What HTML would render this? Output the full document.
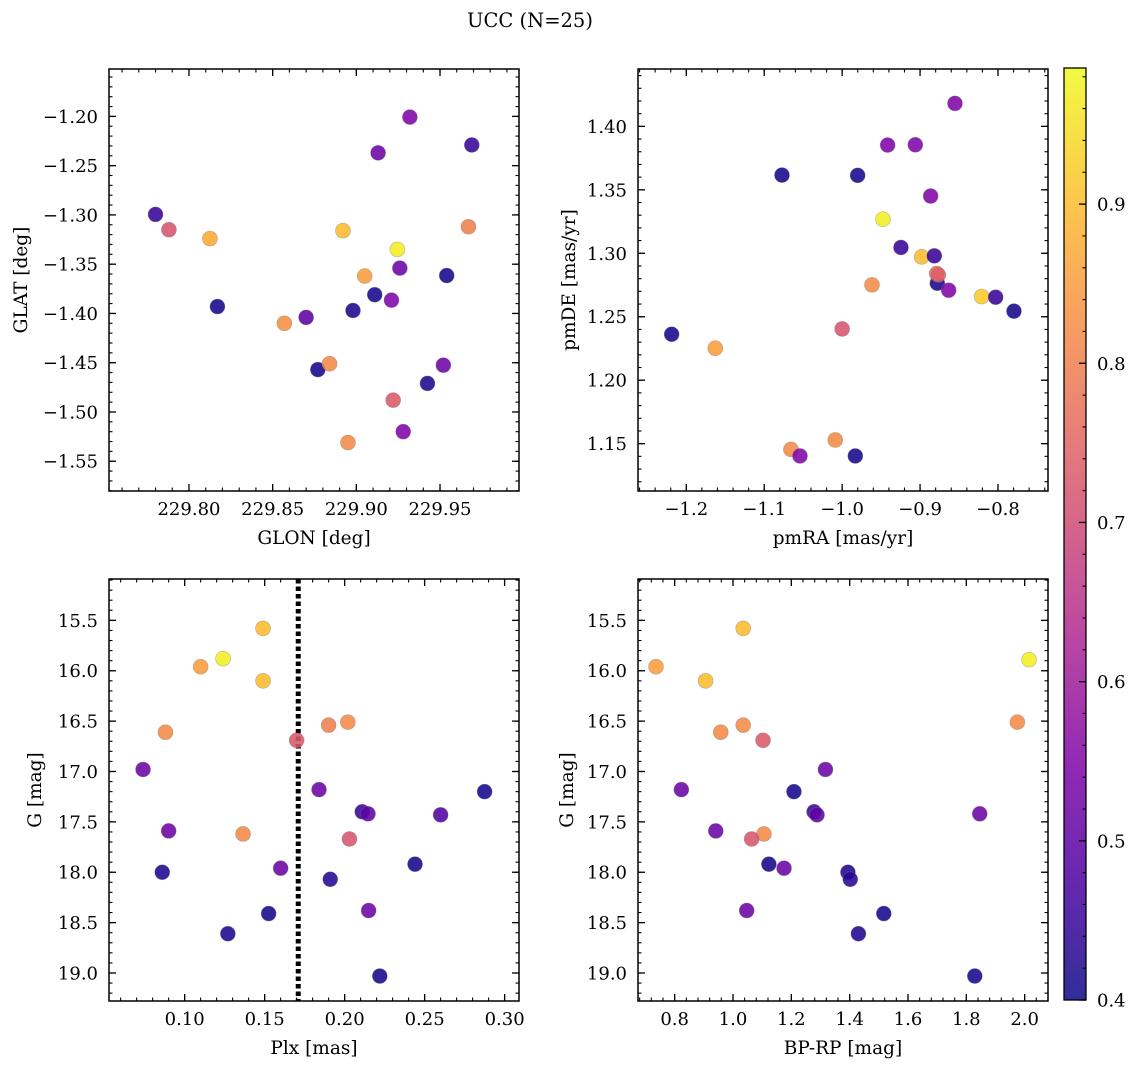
<!DOCTYPE html>
<html><head><meta charset="utf-8">
<style>
html,body{margin:0;padding:0;background:#fff;}
svg{display:block;font-family:"DejaVu Serif","Liberation Serif",serif;}
</style></head>
<body>
<svg id="fig" width="1136" height="1068" viewBox="0 0 1136 1068" xmlns="http://www.w3.org/2000/svg">
<rect width="1136" height="1068" fill="#fff"/>
<text x="530" y="27" text-anchor="middle" font-size="19.5" fill="#000">UCC (N=25)</text>
<defs>
<linearGradient id="cbgrad" x1="0" y1="1" x2="0" y2="0"></linearGradient>
</defs>
</svg>
<script>
// ---------- data (per panel) ----------
const glon = [229.780,229.788,229.8125,229.817,229.857,229.870,229.877,229.884,229.892,229.895,229.898,229.905,229.911,229.913,229.921,229.922,229.9245,229.926,229.928,229.932,229.9425,229.952,229.954,229.967,229.969];
const glat = [-1.2995,-1.315,-1.324,-1.393,-1.410,-1.404,-1.457,-1.451,-1.316,-1.531,-1.397,-1.362,-1.381,-1.237,-1.3865,-1.488,-1.335,-1.354,-1.520,-1.2007,-1.471,-1.4525,-1.3615,-1.312,-1.229];
const probPos = [0.45,0.72,0.87,0.41,0.83,0.5,0.41,0.82,0.9,0.82,0.42,0.85,0.41,0.52,0.55,0.73,0.97,0.52,0.55,0.55,0.42,0.52,0.41,0.8,0.45];

const pmra = [-1.2188,-1.1628,-1.0772,-1.0657,-1.0541,-1.0088,-1.0000,-0.9831,-0.9801,-0.9617,-0.9476,-0.9416,-0.9245,-0.9061,-0.8980,-0.8864,-0.8817,-0.8779,-0.8787,-0.8766,-0.8633,-0.8552,-0.8210,-0.8030,-0.7795];
const pmde = [1.2362,1.2252,1.3616,1.1455,1.1403,1.1529,1.2404,1.1403,1.3614,1.2751,1.3269,1.3853,1.3046,1.3855,1.2972,1.3451,1.2980,1.2764,1.2841,1.2830,1.2709,1.4181,1.2659,1.2654,1.2544];
const probPm = [0.41,0.85,0.41,0.82,0.55,0.82,0.72,0.41,0.41,0.82,0.97,0.55,0.45,0.55,0.9,0.55,0.45,0.41,0.78,0.74,0.55,0.55,0.92,0.45,0.41];

const plx = [0.149,0.124,0.110,0.149,0.088,0.202,0.190,0.170,0.074,0.184,0.2875,0.211,0.2146,0.260,0.090,0.1365,0.203,0.244,0.160,0.086,0.191,0.215,0.1525,0.127,0.222];
const gmagA = [15.58,15.88,15.96,16.10,16.61,16.51,16.54,16.69,16.98,17.18,17.20,17.40,17.42,17.43,17.59,17.62,17.67,17.92,17.96,18.00,18.07,18.38,18.41,18.61,19.03];
const probPlx = [0.9,0.97,0.85,0.9,0.82,0.82,0.8,0.73,0.52,0.52,0.41,0.45,0.5,0.48,0.52,0.82,0.72,0.41,0.52,0.42,0.43,0.52,0.41,0.42,0.41];
const plxCut = [0.171];

const bprp = [0.736,1.035,2.015,0.906,1.975,1.035,0.958,1.103,1.317,0.823,1.209,1.278,1.288,1.846,0.941,1.106,1.064,1.123,1.175,1.394,1.402,1.047,1.517,1.430,1.829];
const gmagB = [15.96,15.58,15.89,16.10,16.51,16.54,16.61,16.69,16.98,17.18,17.20,17.40,17.43,17.42,17.59,17.62,17.67,17.92,17.96,18.00,18.07,18.38,18.41,18.61,19.03];
const probCmd = [0.85,0.9,0.97,0.9,0.82,0.82,0.82,0.73,0.52,0.52,0.41,0.45,0.5,0.52,0.52,0.82,0.72,0.41,0.52,0.42,0.43,0.52,0.41,0.42,0.41];

const cbTicks = [0.4,0.5,0.6,0.7,0.8,0.9];
const VMIN = 0.4, VMAX = 0.9855;

// ---------- helpers ----------
const NS = "http://www.w3.org/2000/svg";
const svg = document.getElementById('fig');
function mk(tag, attrs, parent){
  const e = document.createElementNS(NS, tag);
  for (const k in attrs) e.setAttribute(k, attrs[k]);
  (parent||svg).appendChild(e);
  return e;
}
const plasmaStops = [[13,8,135],[76,2,161],[126,3,168],[169,35,149],[204,71,120],[230,108,92],[248,149,64],[253,195,40],[240,249,33]];
function plasma(t){
  t = Math.max(0, Math.min(1, t));
  const s = t*(plasmaStops.length-1), i = Math.min(Math.floor(s), plasmaStops.length-2), f = s-i;
  const a = plasmaStops[i], b = plasmaStops[i+1];
  return 'rgb(' + [0,1,2].map(k => Math.round(a[k]+(b[k]-a[k])*f)).join(',') + ')';
}
function cmap(v){ return plasma((v-VMIN)/(VMAX-VMIN)); }
function fmt(v, d){ const s = Math.abs(v).toFixed(d); return (v < -1e-9 ? '\u2212' : '') + s; }
const TFS = 18, LFS = 18.5;

function panel(cfg){
  const g = mk('g', {});
  
  
  const {L,R,T,B,xmin,xmax,ymin,ymax,invertY} = cfg;
  const sx = v => L + (v - xmin)/(xmax - xmin)*(R - L);
  const sy = invertY ? (v => T + (v - ymin)/(ymax - ymin)*(B - T)) : (v => B - (v - ymin)/(ymax - ymin)*(B - T));
  const lo = Math.min(ymin,ymax), hi = Math.max(ymin,ymax);
  for (let v = Math.ceil(xmin/cfg.xminor-1e-9)*cfg.xminor; v <= xmax+1e-9; v += cfg.xminor){
    const x = sx(v);
    mk('line',{x1:x,x2:x,y1:B,y2:B-3.5,stroke:'#000','stroke-width':1.1},g);
    mk('line',{x1:x,x2:x,y1:T,y2:T+3.5,stroke:'#000','stroke-width':1.1},g);
  }
  for (let v = Math.ceil(lo/cfg.yminor-1e-9)*cfg.yminor; v <= hi+1e-9; v += cfg.yminor){
    const y = sy(v);
    mk('line',{x1:L,x2:L+3.5,y1:y,y2:y,stroke:'#000','stroke-width':1.1},g);
    mk('line',{x1:R,x2:R-3.5,y1:y,y2:y,stroke:'#000','stroke-width':1.1},g);
  }
  cfg.xticks.forEach(v => {
    const x = sx(v);
    mk('line',{x1:x,x2:x,y1:B,y2:B-7,stroke:'#000','stroke-width':1.3},g);
    mk('line',{x1:x,x2:x,y1:T,y2:T+7,stroke:'#000','stroke-width':1.3},g);
    const t = mk('text',{x:x,y:B+24,'text-anchor':'middle','font-size':TFS,fill:'#000'},g);
    
    
    t.textContent = fmt(v, cfg.xdec);
  });
  cfg.yticks.forEach(v => {
    const y = sy(v);
    mk('line',{x1:L,x2:L+7,y1:y,y2:y,stroke:'#000','stroke-width':1.3},g);
    mk('line',{x1:R,x2:R-7,y1:y,y2:y,stroke:'#000','stroke-width':1.3},g);
    const t = mk('text',{x:L-11,y:y+6.5,'text-anchor':'end','font-size':TFS,fill:'#000'},g);
    
    
    t.textContent = fmt(v, cfg.ydec);
  });
  if (cfg.vline){
    const x = sx(cfg.vline[0]);
    const vl = mk('line',{x1:x,x2:x,y1:T,y2:B,stroke:'#000','stroke-width':5,'stroke-dasharray':'4.5 3'},g);
    
    
  }
  cfg.xs.forEach((xv,i) => {
    const c = mk('circle',{cx:sx(xv),cy:sy(cfg.ys[i]),r:7.5,fill:cmap(cfg.cs[i]),'fill-opacity':0.88,stroke:'#777','stroke-opacity':0.5,'stroke-width':0.6},g);
    
    
  });
  const frame = mk('rect',{x:L,y:T,width:R-L,height:B-T,fill:'none',stroke:'#000','stroke-width':1.5},g);
  
  
  const xl = mk('text',{x:(L+R)/2,y:B+53,'text-anchor':'middle','font-size':LFS,fill:'#000'},g);
  
  
  xl.textContent = cfg.xlabel;
  const yx = cfg.ylabelX, yy = (T+B)/2;
  const yl = mk('text',{x:yx,y:yy,'text-anchor':'middle','font-size':LFS,fill:'#000',transform:'rotate(-90 '+yx+' '+yy+')'},g);
  
  
  yl.textContent = cfg.ylabel;
}

panel({name:'glon-glat-panel',L:109,R:519,T:69,B:491,xmin:229.7522,xmax:229.9972,ymin:-1.5802,ymax:-1.1519,
  xticks:[229.80,229.85,229.90,229.95],yticks:[-1.20,-1.25,-1.30,-1.35,-1.40,-1.45,-1.50,-1.55],xdec:2,ydec:2,
  xminor:0.01,yminor:0.01,xs:glon,ys:glat,cs:probPos,xlabel:'GLON [deg]',ylabel:'GLAT [deg]',ylabelX:27});
panel({name:'pm-panel',L:638,R:1048,T:69,B:491,xmin:-1.2620,xmax:-0.7358,ymin:1.1127,ymax:1.4452,
  xticks:[-1.2,-1.1,-1.0,-0.9,-0.8],yticks:[1.15,1.20,1.25,1.30,1.35,1.40],xdec:1,ydec:2,
  xminor:0.02,yminor:0.01,xs:pmra,ys:pmde,cs:probPm,xlabel:'pmRA [mas/yr]',ylabel:'pmDE [mas/yr]',ylabelX:575});
panel({name:'plx-g-panel',L:109,R:519,T:579,B:1001,xmin:0.0527,xmax:0.3090,ymin:15.0894,ymax:19.278,invertY:true,
  xticks:[0.10,0.15,0.20,0.25,0.30],yticks:[15.5,16.0,16.5,17.0,17.5,18.0,18.5,19.0],xdec:2,ydec:1,
  xminor:0.01,yminor:0.1,xs:plx,ys:gmagA,cs:probPlx,vline:plxCut,xlabel:'Plx [mas]',ylabel:'G [mag]',ylabelX:41});
panel({name:'cmd-panel',L:638,R:1048,T:579,B:1001,xmin:0.6743,xmax:2.08,ymin:15.0894,ymax:19.278,invertY:true,
  xticks:[0.8,1.0,1.2,1.4,1.6,1.8,2.0],yticks:[15.5,16.0,16.5,17.0,17.5,18.0,18.5,19.0],xdec:1,ydec:1,
  xminor:0.04,yminor:0.1,xs:bprp,ys:gmagB,cs:probCmd,xlabel:'BP-RP [mag]',ylabel:'G [mag]',ylabelX:573});

// ---------- colorbar ----------
const grad = document.getElementById('cbgrad');
for (let i = 0; i <= 20; i++){
  const st = document.createElementNS(NS,'stop');
  st.setAttribute('offset', (i/20).toString());
  st.setAttribute('stop-color', plasma(i/20));
  st.setAttribute('stop-opacity', '0.85');
  grad.appendChild(st);
}
const cbL = 1064, cbR = 1086, cbT = 68, cbB = 1000;
const cbY = v => cbB - (v - VMIN)/(VMAX - VMIN)*(cbB - cbT);
const cb = mk('rect',{x:cbL,y:cbT,width:cbR-cbL,height:cbB-cbT,fill:'url(#cbgrad)',stroke:'#000','stroke-width':1.3});


for (let v = VMIN; v <= VMAX+1e-9; v += 0.02){
  const y = cbY(v);
  mk('line',{x1:cbR,x2:cbR-3.5,y1:y,y2:y,stroke:'#000','stroke-width':1.1});
}
cbTicks.forEach(v => {
  const y = cbY(v);
  mk('line',{x1:cbR,x2:cbR-7,y1:y,y2:y,stroke:'#000','stroke-width':1.3});
  const t = mk('text',{x:cbR+11,y:y+6.5,'font-size':TFS,fill:'#000'});
  
  
  t.textContent = v.toFixed(1);
});
</script>
</body></html>
